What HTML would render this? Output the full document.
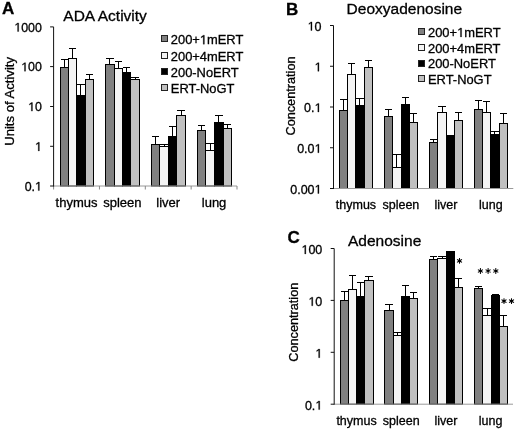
<!DOCTYPE html>
<html><head><meta charset="utf-8"><style>
html,body{margin:0;padding:0;background:#fff;}
svg{display:block;filter:grayscale(1);}
text{font-family:"Liberation Sans", sans-serif;fill:#000;stroke:#000;stroke-width:0.3px;}
.o{fill:transparent;stroke:none;}
</style></head><body>
<svg width="520" height="430" viewBox="0 0 520 430">
<rect width="520" height="430" fill="#fff"/>
<rect x="60.50" y="67.50" width="8.00" height="118.50" fill="#808080" stroke="#000" stroke-width="1"/>
<rect x="68.50" y="58.50" width="8.00" height="127.50" fill="#f4f4f4" stroke="#000" stroke-width="1"/>
<rect x="76.50" y="95.50" width="9.00" height="90.50" fill="#000000" stroke="#000" stroke-width="1"/>
<rect x="85.50" y="79.50" width="8.00" height="106.50" fill="#c0c0c0" stroke="#000" stroke-width="1"/>
<line x1="64.50" y1="67.50" x2="64.50" y2="59.50" stroke="#000" stroke-width="1"/>
<line x1="61.00" y1="59.50" x2="68.00" y2="59.50" stroke="#000" stroke-width="1"/>
<line x1="72.50" y1="58.50" x2="72.50" y2="48.50" stroke="#000" stroke-width="1"/>
<line x1="69.00" y1="48.50" x2="76.00" y2="48.50" stroke="#000" stroke-width="1"/>
<line x1="80.50" y1="95.50" x2="80.50" y2="84.50" stroke="#000" stroke-width="1"/>
<line x1="77.00" y1="84.50" x2="85.00" y2="84.50" stroke="#000" stroke-width="1"/>
<line x1="89.50" y1="79.50" x2="89.50" y2="74.50" stroke="#000" stroke-width="1"/>
<line x1="86.00" y1="74.50" x2="93.00" y2="74.50" stroke="#000" stroke-width="1"/>
<rect x="105.50" y="64.50" width="9.00" height="121.50" fill="#808080" stroke="#000" stroke-width="1"/>
<rect x="114.50" y="68.50" width="8.00" height="117.50" fill="#f4f4f4" stroke="#000" stroke-width="1"/>
<rect x="122.50" y="72.50" width="8.00" height="113.50" fill="#000000" stroke="#000" stroke-width="1"/>
<rect x="130.50" y="79.50" width="9.00" height="106.50" fill="#c0c0c0" stroke="#000" stroke-width="1"/>
<line x1="109.50" y1="64.50" x2="109.50" y2="58.50" stroke="#000" stroke-width="1"/>
<line x1="106.00" y1="58.50" x2="114.00" y2="58.50" stroke="#000" stroke-width="1"/>
<line x1="118.50" y1="68.50" x2="118.50" y2="61.50" stroke="#000" stroke-width="1"/>
<line x1="115.00" y1="61.50" x2="122.00" y2="61.50" stroke="#000" stroke-width="1"/>
<line x1="126.50" y1="72.50" x2="126.50" y2="67.50" stroke="#000" stroke-width="1"/>
<line x1="123.00" y1="67.50" x2="130.00" y2="67.50" stroke="#000" stroke-width="1"/>
<line x1="135.50" y1="79.50" x2="135.50" y2="77.50" stroke="#000" stroke-width="1"/>
<line x1="131.00" y1="77.50" x2="139.00" y2="77.50" stroke="#000" stroke-width="1"/>
<rect x="151.50" y="144.50" width="8.00" height="41.50" fill="#808080" stroke="#000" stroke-width="1"/>
<rect x="159.50" y="146.50" width="9.00" height="39.50" fill="#f4f4f4" stroke="#000" stroke-width="1"/>
<rect x="168.50" y="136.50" width="8.00" height="49.50" fill="#000000" stroke="#000" stroke-width="1"/>
<rect x="176.50" y="115.50" width="9.00" height="70.50" fill="#c0c0c0" stroke="#000" stroke-width="1"/>
<line x1="155.50" y1="144.50" x2="155.50" y2="136.50" stroke="#000" stroke-width="1"/>
<line x1="152.00" y1="136.50" x2="159.00" y2="136.50" stroke="#000" stroke-width="1"/>
<line x1="164.50" y1="146.50" x2="164.50" y2="144.50" stroke="#000" stroke-width="1"/>
<line x1="160.00" y1="144.50" x2="168.00" y2="144.50" stroke="#000" stroke-width="1"/>
<line x1="172.50" y1="136.50" x2="172.50" y2="126.50" stroke="#000" stroke-width="1"/>
<line x1="169.00" y1="126.50" x2="176.00" y2="126.50" stroke="#000" stroke-width="1"/>
<line x1="181.50" y1="115.50" x2="181.50" y2="110.50" stroke="#000" stroke-width="1"/>
<line x1="177.00" y1="110.50" x2="185.00" y2="110.50" stroke="#000" stroke-width="1"/>
<rect x="197.50" y="130.50" width="8.00" height="55.50" fill="#808080" stroke="#000" stroke-width="1"/>
<rect x="205.50" y="150.50" width="9.00" height="35.50" fill="#f4f4f4" stroke="#000" stroke-width="1"/>
<rect x="214.50" y="122.50" width="9.00" height="63.50" fill="#000000" stroke="#000" stroke-width="1"/>
<rect x="223.50" y="128.50" width="8.00" height="57.50" fill="#c0c0c0" stroke="#000" stroke-width="1"/>
<line x1="201.50" y1="130.50" x2="201.50" y2="125.50" stroke="#000" stroke-width="1"/>
<line x1="198.00" y1="125.50" x2="205.00" y2="125.50" stroke="#000" stroke-width="1"/>
<line x1="210.50" y1="150.50" x2="210.50" y2="143.50" stroke="#000" stroke-width="1"/>
<line x1="206.00" y1="143.50" x2="214.00" y2="143.50" stroke="#000" stroke-width="1"/>
<line x1="218.50" y1="122.50" x2="218.50" y2="115.50" stroke="#000" stroke-width="1"/>
<line x1="215.00" y1="115.50" x2="223.00" y2="115.50" stroke="#000" stroke-width="1"/>
<line x1="227.50" y1="128.50" x2="227.50" y2="124.50" stroke="#000" stroke-width="1"/>
<line x1="224.00" y1="124.50" x2="231.00" y2="124.50" stroke="#000" stroke-width="1"/>
<line x1="53.60" y1="186.00" x2="237.00" y2="186.00" stroke="#9a9a9a" stroke-width="1"/>
<line x1="53.60" y1="186.00" x2="53.60" y2="189.50" stroke="#888" stroke-width="1"/>
<line x1="99.45" y1="186.00" x2="99.45" y2="189.50" stroke="#888" stroke-width="1"/>
<line x1="145.30" y1="186.00" x2="145.30" y2="189.50" stroke="#888" stroke-width="1"/>
<line x1="191.15" y1="186.00" x2="191.15" y2="189.50" stroke="#888" stroke-width="1"/>
<line x1="237.00" y1="186.00" x2="237.00" y2="189.50" stroke="#888" stroke-width="1"/>
<line x1="53.60" y1="26.90" x2="53.60" y2="186.50" stroke="#111" stroke-width="1"/>
<line x1="50.10" y1="26.90" x2="53.60" y2="26.90" stroke="#111" stroke-width="1"/>
<text x="41.90" y="31.50" text-anchor="end" font-size="12.4"><tspan class="o">1</tspan>000</text>
<line x1="50.10" y1="66.60" x2="53.60" y2="66.60" stroke="#111" stroke-width="1"/>
<text x="41.90" y="71.20" text-anchor="end" font-size="12.4"><tspan class="o">1</tspan>00</text>
<line x1="50.10" y1="106.50" x2="53.60" y2="106.50" stroke="#111" stroke-width="1"/>
<text x="41.90" y="111.10" text-anchor="end" font-size="12.4"><tspan class="o">1</tspan>0</text>
<line x1="50.10" y1="146.30" x2="53.60" y2="146.30" stroke="#111" stroke-width="1"/>
<text x="41.90" y="150.90" text-anchor="end" font-size="12.4"><tspan class="o">1</tspan></text>
<line x1="50.10" y1="186.00" x2="53.60" y2="186.00" stroke="#111" stroke-width="1"/>
<text x="41.90" y="190.60" text-anchor="end" font-size="12.4">0.<tspan class="o">1</tspan></text>
<text x="76.53" y="207.00" text-anchor="middle" font-size="13.0">thymus</text>
<text x="122.38" y="207.00" text-anchor="middle" font-size="13.0">spleen</text>
<text x="168.22" y="207.00" text-anchor="middle" font-size="13.0">liver</text>
<text x="214.07" y="207.00" text-anchor="middle" font-size="13.0">lung</text>
<text transform="translate(14.30,101.40) rotate(-90)" text-anchor="middle" font-size="13.1">Units of Activity</text>
<text x="63.30" y="20.80" font-size="15.5">ADA Activity</text>
<text x="2.00" y="14.00" font-size="17" font-weight="bold">A</text>
<rect x="161.50" y="35.50" width="6.00" height="6.00" fill="#808080" stroke="#222" stroke-width="1"/>
<text x="170.80" y="44.20" font-size="12.9">200+<tspan class="o">1</tspan>mERT</text>
<rect x="161.50" y="52.50" width="6.00" height="6.00" fill="#f4f4f4" stroke="#222" stroke-width="1"/>
<text x="170.80" y="60.50" font-size="12.9">200+4mERT</text>
<rect x="161.50" y="68.50" width="6.00" height="6.00" fill="#000000" stroke="#222" stroke-width="1"/>
<text x="170.80" y="76.80" font-size="12.9">200-NoERT</text>
<rect x="161.50" y="84.50" width="6.00" height="6.00" fill="#c0c0c0" stroke="#222" stroke-width="1"/>
<text x="170.80" y="93.10" font-size="12.9">ERT-NoGT</text>
<rect x="339.50" y="110.50" width="8.00" height="78.00" fill="#808080" stroke="#000" stroke-width="1"/>
<rect x="347.50" y="74.50" width="8.00" height="114.00" fill="#f4f4f4" stroke="#000" stroke-width="1"/>
<rect x="355.50" y="105.50" width="9.00" height="83.00" fill="#000000" stroke="#000" stroke-width="1"/>
<rect x="364.50" y="67.50" width="8.00" height="121.00" fill="#c0c0c0" stroke="#000" stroke-width="1"/>
<line x1="343.50" y1="110.50" x2="343.50" y2="99.50" stroke="#000" stroke-width="1"/>
<line x1="340.00" y1="99.50" x2="347.00" y2="99.50" stroke="#000" stroke-width="1"/>
<line x1="351.50" y1="74.50" x2="351.50" y2="63.50" stroke="#000" stroke-width="1"/>
<line x1="348.00" y1="63.50" x2="355.00" y2="63.50" stroke="#000" stroke-width="1"/>
<line x1="359.50" y1="105.50" x2="359.50" y2="98.50" stroke="#000" stroke-width="1"/>
<line x1="356.00" y1="98.50" x2="364.00" y2="98.50" stroke="#000" stroke-width="1"/>
<line x1="368.50" y1="67.50" x2="368.50" y2="60.50" stroke="#000" stroke-width="1"/>
<line x1="365.00" y1="60.50" x2="372.00" y2="60.50" stroke="#000" stroke-width="1"/>
<rect x="384.50" y="116.50" width="8.00" height="72.00" fill="#808080" stroke="#000" stroke-width="1"/>
<rect x="392.50" y="167.50" width="9.00" height="21.00" fill="#f4f4f4" stroke="#000" stroke-width="1"/>
<rect x="401.50" y="104.50" width="8.00" height="84.00" fill="#000000" stroke="#000" stroke-width="1"/>
<rect x="409.50" y="122.50" width="8.00" height="66.00" fill="#c0c0c0" stroke="#000" stroke-width="1"/>
<line x1="388.50" y1="116.50" x2="388.50" y2="109.50" stroke="#000" stroke-width="1"/>
<line x1="385.00" y1="109.50" x2="392.00" y2="109.50" stroke="#000" stroke-width="1"/>
<line x1="396.50" y1="167.50" x2="396.50" y2="154.50" stroke="#000" stroke-width="1"/>
<line x1="393.00" y1="154.50" x2="401.00" y2="154.50" stroke="#000" stroke-width="1"/>
<line x1="405.50" y1="104.50" x2="405.50" y2="97.50" stroke="#000" stroke-width="1"/>
<line x1="402.00" y1="97.50" x2="409.00" y2="97.50" stroke="#000" stroke-width="1"/>
<line x1="413.50" y1="122.50" x2="413.50" y2="113.50" stroke="#000" stroke-width="1"/>
<line x1="410.00" y1="113.50" x2="417.00" y2="113.50" stroke="#000" stroke-width="1"/>
<rect x="429.50" y="142.50" width="8.00" height="46.00" fill="#808080" stroke="#000" stroke-width="1"/>
<rect x="437.50" y="112.50" width="9.00" height="76.00" fill="#f4f4f4" stroke="#000" stroke-width="1"/>
<rect x="446.50" y="135.50" width="8.00" height="53.00" fill="#000000" stroke="#000" stroke-width="1"/>
<rect x="454.50" y="120.50" width="8.00" height="68.00" fill="#c0c0c0" stroke="#000" stroke-width="1"/>
<line x1="433.50" y1="142.50" x2="433.50" y2="139.50" stroke="#000" stroke-width="1"/>
<line x1="430.00" y1="139.50" x2="437.00" y2="139.50" stroke="#000" stroke-width="1"/>
<line x1="442.50" y1="112.50" x2="442.50" y2="106.50" stroke="#000" stroke-width="1"/>
<line x1="438.00" y1="106.50" x2="446.00" y2="106.50" stroke="#000" stroke-width="1"/>
<line x1="458.50" y1="120.50" x2="458.50" y2="112.50" stroke="#000" stroke-width="1"/>
<line x1="455.00" y1="112.50" x2="462.00" y2="112.50" stroke="#000" stroke-width="1"/>
<rect x="474.50" y="109.50" width="8.00" height="79.00" fill="#808080" stroke="#000" stroke-width="1"/>
<rect x="482.50" y="112.50" width="8.00" height="76.00" fill="#f4f4f4" stroke="#000" stroke-width="1"/>
<rect x="490.50" y="134.50" width="9.00" height="54.00" fill="#000000" stroke="#000" stroke-width="1"/>
<rect x="499.50" y="123.50" width="8.00" height="65.00" fill="#c0c0c0" stroke="#000" stroke-width="1"/>
<line x1="478.50" y1="109.50" x2="478.50" y2="100.50" stroke="#000" stroke-width="1"/>
<line x1="475.00" y1="100.50" x2="482.00" y2="100.50" stroke="#000" stroke-width="1"/>
<line x1="486.50" y1="112.50" x2="486.50" y2="101.50" stroke="#000" stroke-width="1"/>
<line x1="483.00" y1="101.50" x2="490.00" y2="101.50" stroke="#000" stroke-width="1"/>
<line x1="494.50" y1="134.50" x2="494.50" y2="131.50" stroke="#000" stroke-width="1"/>
<line x1="491.00" y1="131.50" x2="499.00" y2="131.50" stroke="#000" stroke-width="1"/>
<line x1="503.50" y1="123.50" x2="503.50" y2="113.50" stroke="#000" stroke-width="1"/>
<line x1="500.00" y1="113.50" x2="507.00" y2="113.50" stroke="#000" stroke-width="1"/>
<line x1="333.50" y1="188.50" x2="513.30" y2="188.50" stroke="#9a9a9a" stroke-width="1"/>
<line x1="333.50" y1="25.50" x2="333.50" y2="189.00" stroke="#111" stroke-width="1"/>
<line x1="330.00" y1="25.50" x2="333.50" y2="25.50" stroke="#111" stroke-width="1"/>
<text x="321.50" y="30.50" text-anchor="end" font-size="12.5"><tspan class="o">1</tspan>0</text>
<line x1="330.00" y1="66.25" x2="333.50" y2="66.25" stroke="#111" stroke-width="1"/>
<text x="321.50" y="71.25" text-anchor="end" font-size="12.5"><tspan class="o">1</tspan></text>
<line x1="330.00" y1="107.00" x2="333.50" y2="107.00" stroke="#111" stroke-width="1"/>
<text x="321.50" y="112.00" text-anchor="end" font-size="12.5">0.<tspan class="o">1</tspan></text>
<line x1="330.00" y1="147.75" x2="333.50" y2="147.75" stroke="#111" stroke-width="1"/>
<text x="321.50" y="152.75" text-anchor="end" font-size="12.5">0.0<tspan class="o">1</tspan></text>
<line x1="330.00" y1="188.50" x2="333.50" y2="188.50" stroke="#111" stroke-width="1"/>
<text x="321.50" y="193.50" text-anchor="end" font-size="12.5">0.00<tspan class="o">1</tspan></text>
<text x="355.98" y="209.00" text-anchor="middle" font-size="12.5">thymus</text>
<text x="400.92" y="209.00" text-anchor="middle" font-size="12.5">spleen</text>
<text x="445.88" y="209.00" text-anchor="middle" font-size="12.5">liver</text>
<text x="490.82" y="209.00" text-anchor="middle" font-size="12.5">lung</text>
<text transform="translate(294.80,96.00) rotate(-90)" text-anchor="middle" font-size="12.7">Concentration</text>
<text x="346.60" y="14.20" font-size="15.5">Deoxyadenosine</text>
<text x="286.00" y="14.80" font-size="17" font-weight="bold">B</text>
<rect x="418.50" y="28.50" width="6.00" height="6.00" fill="#808080" stroke="#222" stroke-width="1"/>
<text x="428.00" y="36.90" font-size="12.9">200+<tspan class="o">1</tspan>mERT</text>
<rect x="418.50" y="44.50" width="6.00" height="6.00" fill="#f4f4f4" stroke="#222" stroke-width="1"/>
<text x="428.00" y="52.60" font-size="12.9">200+4mERT</text>
<rect x="418.50" y="60.50" width="6.00" height="6.00" fill="#000000" stroke="#222" stroke-width="1"/>
<text x="428.00" y="68.30" font-size="12.9">200-NoERT</text>
<rect x="418.50" y="75.50" width="6.00" height="6.00" fill="#c0c0c0" stroke="#222" stroke-width="1"/>
<text x="428.00" y="84.00" font-size="12.9">ERT-NoGT</text>
<rect x="340.50" y="300.50" width="8.00" height="103.70" fill="#808080" stroke="#000" stroke-width="1"/>
<rect x="348.50" y="289.50" width="8.00" height="114.70" fill="#f4f4f4" stroke="#000" stroke-width="1"/>
<rect x="356.50" y="296.50" width="8.00" height="107.70" fill="#000000" stroke="#000" stroke-width="1"/>
<rect x="364.50" y="280.50" width="9.00" height="123.70" fill="#c0c0c0" stroke="#000" stroke-width="1"/>
<line x1="344.50" y1="300.50" x2="344.50" y2="291.50" stroke="#000" stroke-width="1"/>
<line x1="341.00" y1="291.50" x2="348.00" y2="291.50" stroke="#000" stroke-width="1"/>
<line x1="352.50" y1="289.50" x2="352.50" y2="275.50" stroke="#000" stroke-width="1"/>
<line x1="349.00" y1="275.50" x2="356.00" y2="275.50" stroke="#000" stroke-width="1"/>
<line x1="360.50" y1="296.50" x2="360.50" y2="282.50" stroke="#000" stroke-width="1"/>
<line x1="357.00" y1="282.50" x2="364.00" y2="282.50" stroke="#000" stroke-width="1"/>
<line x1="368.50" y1="280.50" x2="368.50" y2="276.50" stroke="#000" stroke-width="1"/>
<line x1="365.00" y1="276.50" x2="373.00" y2="276.50" stroke="#000" stroke-width="1"/>
<rect x="384.50" y="310.50" width="9.00" height="93.70" fill="#808080" stroke="#000" stroke-width="1"/>
<rect x="393.50" y="335.50" width="8.00" height="68.70" fill="#f4f4f4" stroke="#000" stroke-width="1"/>
<rect x="401.50" y="296.50" width="8.00" height="107.70" fill="#000000" stroke="#000" stroke-width="1"/>
<rect x="409.50" y="298.50" width="8.00" height="105.70" fill="#c0c0c0" stroke="#000" stroke-width="1"/>
<line x1="389.50" y1="310.50" x2="389.50" y2="304.50" stroke="#000" stroke-width="1"/>
<line x1="385.00" y1="304.50" x2="393.00" y2="304.50" stroke="#000" stroke-width="1"/>
<line x1="397.50" y1="335.50" x2="397.50" y2="332.50" stroke="#000" stroke-width="1"/>
<line x1="394.00" y1="332.50" x2="401.00" y2="332.50" stroke="#000" stroke-width="1"/>
<line x1="405.50" y1="296.50" x2="405.50" y2="285.50" stroke="#000" stroke-width="1"/>
<line x1="402.00" y1="285.50" x2="409.00" y2="285.50" stroke="#000" stroke-width="1"/>
<line x1="413.50" y1="298.50" x2="413.50" y2="292.50" stroke="#000" stroke-width="1"/>
<line x1="410.00" y1="292.50" x2="417.00" y2="292.50" stroke="#000" stroke-width="1"/>
<rect x="429.50" y="259.50" width="8.00" height="144.70" fill="#808080" stroke="#000" stroke-width="1"/>
<rect x="437.50" y="258.50" width="9.00" height="145.70" fill="#f4f4f4" stroke="#000" stroke-width="1"/>
<rect x="446.50" y="251.50" width="8.00" height="152.70" fill="#000000" stroke="#000" stroke-width="1"/>
<rect x="454.50" y="287.50" width="8.00" height="116.70" fill="#c0c0c0" stroke="#000" stroke-width="1"/>
<line x1="433.50" y1="259.50" x2="433.50" y2="256.50" stroke="#000" stroke-width="1"/>
<line x1="430.00" y1="256.50" x2="437.00" y2="256.50" stroke="#000" stroke-width="1"/>
<line x1="442.50" y1="258.50" x2="442.50" y2="256.50" stroke="#000" stroke-width="1"/>
<line x1="438.00" y1="256.50" x2="446.00" y2="256.50" stroke="#000" stroke-width="1"/>
<line x1="458.50" y1="287.50" x2="458.50" y2="278.50" stroke="#000" stroke-width="1"/>
<line x1="455.00" y1="278.50" x2="462.00" y2="278.50" stroke="#000" stroke-width="1"/>
<rect x="474.50" y="288.50" width="8.00" height="115.70" fill="#808080" stroke="#000" stroke-width="1"/>
<rect x="482.50" y="315.50" width="9.00" height="88.70" fill="#f4f4f4" stroke="#000" stroke-width="1"/>
<rect x="491.50" y="295.50" width="8.00" height="108.70" fill="#000000" stroke="#000" stroke-width="1"/>
<rect x="499.50" y="326.50" width="8.00" height="77.70" fill="#c0c0c0" stroke="#000" stroke-width="1"/>
<line x1="478.50" y1="288.50" x2="478.50" y2="286.50" stroke="#000" stroke-width="1"/>
<line x1="475.00" y1="286.50" x2="482.00" y2="286.50" stroke="#000" stroke-width="1"/>
<line x1="487.50" y1="315.50" x2="487.50" y2="308.50" stroke="#000" stroke-width="1"/>
<line x1="483.00" y1="308.50" x2="491.00" y2="308.50" stroke="#000" stroke-width="1"/>
<line x1="495.50" y1="295.50" x2="495.50" y2="294.50" stroke="#000" stroke-width="1"/>
<line x1="492.00" y1="294.50" x2="499.00" y2="294.50" stroke="#000" stroke-width="1"/>
<line x1="503.50" y1="326.50" x2="503.50" y2="315.50" stroke="#000" stroke-width="1"/>
<line x1="500.00" y1="315.50" x2="507.00" y2="315.50" stroke="#000" stroke-width="1"/>
<line x1="334.20" y1="404.20" x2="513.00" y2="404.20" stroke="#9a9a9a" stroke-width="1"/>
<line x1="334.20" y1="248.50" x2="334.20" y2="404.70" stroke="#111" stroke-width="1"/>
<line x1="330.70" y1="248.50" x2="334.20" y2="248.50" stroke="#111" stroke-width="1"/>
<text x="322.30" y="253.90" text-anchor="end" font-size="12.5"><tspan class="o">1</tspan>00</text>
<line x1="330.70" y1="300.40" x2="334.20" y2="300.40" stroke="#111" stroke-width="1"/>
<text x="322.30" y="305.80" text-anchor="end" font-size="12.5"><tspan class="o">1</tspan>0</text>
<line x1="330.70" y1="352.30" x2="334.20" y2="352.30" stroke="#111" stroke-width="1"/>
<text x="322.30" y="357.70" text-anchor="end" font-size="12.5"><tspan class="o">1</tspan></text>
<line x1="330.70" y1="404.20" x2="334.20" y2="404.20" stroke="#111" stroke-width="1"/>
<text x="322.30" y="409.60" text-anchor="end" font-size="12.5">0.<tspan class="o">1</tspan></text>
<text x="356.55" y="425.20" text-anchor="middle" font-size="12.5">thymus</text>
<text x="401.25" y="425.20" text-anchor="middle" font-size="12.5">spleen</text>
<text x="445.95" y="425.20" text-anchor="middle" font-size="12.5">liver</text>
<text x="490.65" y="425.20" text-anchor="middle" font-size="12.5">lung</text>
<text transform="translate(297.50,322.20) rotate(-90)" text-anchor="middle" font-size="12.7">Concentration</text>
<text x="348.00" y="245.70" font-size="15.5">Adenosine</text>
<text x="287.50" y="242.60" font-size="17" font-weight="bold">C</text>
<path d="M460.12,260.90L459.95,258.00L459.05,258.00L458.88,260.90ZM459.81,260.36L457.21,259.06L456.76,259.84L459.19,261.44ZM459.19,260.36L456.76,261.96L457.21,262.74L459.81,261.44ZM458.88,260.90L459.05,263.80L459.95,263.80L460.12,260.90ZM459.19,261.44L461.79,262.74L462.24,261.96L459.81,260.36ZM459.81,261.44L462.24,259.84L461.79,259.06L459.19,260.36Z" fill="#000" fill-rule="nonzero"/>
<circle cx="459.50" cy="260.90" r="0.95" fill="#000"/>
<path d="M481.02,271.00L480.85,268.10L479.95,268.10L479.78,271.00ZM480.71,270.46L478.11,269.16L477.66,269.94L480.09,271.54ZM480.09,270.46L477.66,272.06L478.11,272.84L480.71,271.54ZM479.78,271.00L479.95,273.90L480.85,273.90L481.02,271.00ZM480.09,271.54L482.69,272.84L483.14,272.06L480.71,270.46ZM480.71,271.54L483.14,269.94L482.69,269.16L480.09,270.46Z" fill="#000" fill-rule="nonzero"/>
<circle cx="480.40" cy="271.00" r="0.95" fill="#000"/>
<path d="M488.72,271.00L488.55,268.10L487.65,268.10L487.48,271.00ZM488.41,270.46L485.81,269.16L485.36,269.94L487.79,271.54ZM487.79,270.46L485.36,272.06L485.81,272.84L488.41,271.54ZM487.48,271.00L487.65,273.90L488.55,273.90L488.72,271.00ZM487.79,271.54L490.39,272.84L490.84,272.06L488.41,270.46ZM488.41,271.54L490.84,269.94L490.39,269.16L487.79,270.46Z" fill="#000" fill-rule="nonzero"/>
<circle cx="488.10" cy="271.00" r="0.95" fill="#000"/>
<path d="M496.42,271.00L496.25,268.10L495.35,268.10L495.18,271.00ZM496.11,270.46L493.51,269.16L493.06,269.94L495.49,271.54ZM495.49,270.46L493.06,272.06L493.51,272.84L496.11,271.54ZM495.18,271.00L495.35,273.90L496.25,273.90L496.42,271.00ZM495.49,271.54L498.09,272.84L498.54,272.06L496.11,270.46ZM496.11,271.54L498.54,269.94L498.09,269.16L495.49,270.46Z" fill="#000" fill-rule="nonzero"/>
<circle cx="495.80" cy="271.00" r="0.95" fill="#000"/>
<path d="M504.62,301.10L504.45,298.20L503.55,298.20L503.38,301.10ZM504.31,300.56L501.71,299.26L501.26,300.04L503.69,301.64ZM503.69,300.56L501.26,302.16L501.71,302.94L504.31,301.64ZM503.38,301.10L503.55,304.00L504.45,304.00L504.62,301.10ZM503.69,301.64L506.29,302.94L506.74,302.16L504.31,300.56ZM504.31,301.64L506.74,300.04L506.29,299.26L503.69,300.56Z" fill="#000" fill-rule="nonzero"/>
<circle cx="504.00" cy="301.10" r="0.95" fill="#000"/>
<path d="M512.12,301.10L511.95,298.20L511.05,298.20L510.88,301.10ZM511.81,300.56L509.21,299.26L508.76,300.04L511.19,301.64ZM511.19,300.56L508.76,302.16L509.21,302.94L511.81,301.64ZM510.88,301.10L511.05,304.00L511.95,304.00L512.12,301.10ZM511.19,301.64L513.79,302.94L514.24,302.16L511.81,300.56ZM511.81,301.64L514.24,300.04L513.79,299.26L511.19,300.56Z" fill="#000" fill-rule="nonzero"/>
<circle cx="511.50" cy="301.10" r="0.95" fill="#000"/>
<path d="M17.58,31.50L18.67,31.50L18.67,22.97L17.70,22.97L17.70,22.97L15.61,24.45L15.61,25.45L17.58,24.10Z" fill="#000" stroke="#000" stroke-width="0.3"/>
<path d="M24.47,71.20L25.56,71.20L25.56,62.67L24.59,62.67L24.59,62.67L22.50,64.15L22.50,65.15L24.47,63.80Z" fill="#000" stroke="#000" stroke-width="0.3"/>
<path d="M31.36,111.10L32.45,111.10L32.45,102.57L31.48,102.57L31.48,102.57L29.39,104.05L29.39,105.05L31.36,103.70Z" fill="#000" stroke="#000" stroke-width="0.3"/>
<path d="M38.26,150.90L39.35,150.90L39.35,142.37L38.38,142.37L38.38,142.37L36.30,143.85L36.30,144.85L38.26,143.50Z" fill="#000" stroke="#000" stroke-width="0.3"/>
<path d="M38.26,190.60L39.35,190.60L39.35,182.07L38.38,182.07L38.38,182.07L36.30,183.55L36.30,184.55L38.26,183.20Z" fill="#000" stroke="#000" stroke-width="0.3"/>
<path d="M203.25,44.20L204.38,44.20L204.38,35.32L203.37,35.32L203.37,35.32L201.20,36.86L201.20,37.90L203.25,36.50Z" fill="#000" stroke="#000" stroke-width="0.3"/>
<path d="M310.89,30.50L311.99,30.50L311.99,21.90L311.01,21.90L311.01,21.90L308.91,23.39L308.91,24.40L310.89,23.04Z" fill="#000" stroke="#000" stroke-width="0.3"/>
<path d="M317.84,71.25L318.94,71.25L318.94,62.65L317.96,62.65L317.96,62.65L315.86,64.14L315.86,65.15L317.84,63.79Z" fill="#000" stroke="#000" stroke-width="0.3"/>
<path d="M317.84,112.00L318.94,112.00L318.94,103.40L317.96,103.40L317.96,103.40L315.86,104.89L315.86,105.90L317.84,104.54Z" fill="#000" stroke="#000" stroke-width="0.3"/>
<path d="M317.84,152.75L318.94,152.75L318.94,144.15L317.96,144.15L317.96,144.15L315.86,145.64L315.86,146.65L317.84,145.29Z" fill="#000" stroke="#000" stroke-width="0.3"/>
<path d="M317.84,193.50L318.94,193.50L318.94,184.90L317.96,184.90L317.96,184.90L315.86,186.39L315.86,187.40L317.84,186.04Z" fill="#000" stroke="#000" stroke-width="0.3"/>
<path d="M460.45,36.90L461.58,36.90L461.58,28.02L460.57,28.02L460.57,28.02L458.40,29.56L458.40,30.60L460.45,29.20Z" fill="#000" stroke="#000" stroke-width="0.3"/>
<path d="M304.74,253.90L305.84,253.90L305.84,245.30L304.86,245.30L304.86,245.30L302.75,246.79L302.75,247.80L304.74,246.44Z" fill="#000" stroke="#000" stroke-width="0.3"/>
<path d="M311.69,305.80L312.79,305.80L312.79,297.20L311.81,297.20L311.81,297.20L309.71,298.69L309.71,299.70L311.69,298.34Z" fill="#000" stroke="#000" stroke-width="0.3"/>
<path d="M318.64,357.70L319.74,357.70L319.74,349.10L318.76,349.10L318.76,349.10L316.66,350.59L316.66,351.60L318.64,350.24Z" fill="#000" stroke="#000" stroke-width="0.3"/>
<path d="M318.64,409.60L319.74,409.60L319.74,401.00L318.76,401.00L318.76,401.00L316.66,402.49L316.66,403.50L318.64,402.14Z" fill="#000" stroke="#000" stroke-width="0.3"/>
</svg>
</body></html>
